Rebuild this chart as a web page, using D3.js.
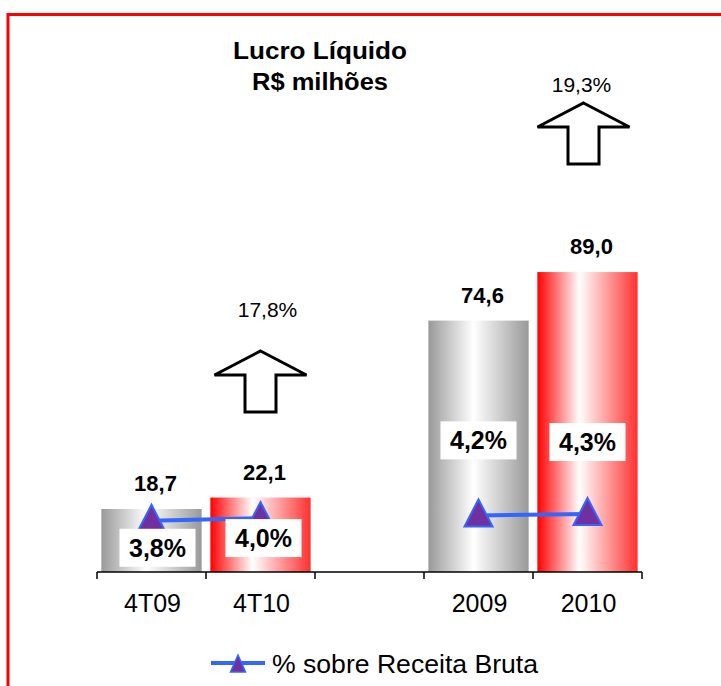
<!DOCTYPE html>
<html>
<head>
<meta charset="utf-8">
<script src="https://cdn.jsdelivr.net/npm/d3@7"></script>
<style>
  body { margin: 0; background: #fff; }
  svg { display: block; font-family: "Liberation Sans", Arial, sans-serif; }
</style>
</head>
<body>
<div class="chart"></div>
<script>
// data
const categories = ["4T09", "4T10", "", "2009", "2010"];
const lucro = [18.7, 22.1, null, 74.6, 89.0];
const lucroLabels = ["18,7", "22,1", null, "74,6", "89,0"];
const margem = [3.8, 4.0, null, 4.2, 4.3];
const margemLabels = ["3,8%", "4,0%", null, "4,2%", "4,3%"];
const barColors = ["gray", "red", null, "gray", "red"];
const growthTo = ["4T10", "2010"];
const growthLabels = ["17,8%", "19,3%"];

// layout only
const pctLabelOffset = [[6, 27], [3, 20], null, [0, -75], [0, -72]];
const arrowTop = [351, 103];
const arrowDx = [0, -4];
const growthLabelY = [317, 92];
const growthLabelDx = [7, -2];

const width = 721, height = 686;

const svg = d3.select(".chart")
    .append("svg")
    .attr("width", width)
    .attr("height", height);

const defs = svg.append("defs");
const grads = {
    gray: [["0%", "#999999"], ["45%", "#ffffff"], ["100%", "#999999"]],
    red: [["0%", "#ff0000"], ["42%", "#ffffff"], ["100%", "#ff3030"]]
};
Object.entries(grads).forEach(([name, stops]) => {
    const g = defs.append("linearGradient")
        .attr("id", "grad-" + name)
        .attr("x1", "0%").attr("x2", "100%").attr("y1", "0%").attr("y2", "0%");
    stops.forEach(s => g.append("stop").attr("offset", s[0]).attr("stop-color", s[1]));
});

// frame
svg.append("rect")
    .attr("x", 8).attr("y", 14.5)
    .attr("width", 900).attr("height", 900)
    .attr("fill", "none")
    .attr("stroke", "#ff0000")
    .attr("stroke-width", 3);

const baseY = 572;
const xScale = d3.scaleBand()
    .domain(categories)
    .range([97, 642])
    .paddingInner(0.08)
    .paddingOuter(0.04);

const yScale = d3.scaleLinear().domain([0, 100]).range([baseY, 235]);
const y2Scale = d3.scaleLinear().domain([0, 25]).range([baseY, 235]);

const rows = categories.map((c, i) => ({
    cat: c, v: lucro[i], vl: lucroLabels[i], m: margem[i], ml: margemLabels[i],
    color: barColors[i], off: pctLabelOffset[i]
}));
const filled = rows.filter(d => d.v != null);

// bars
svg.selectAll(".bar")
    .data(filled)
    .enter()
    .append("rect")
    .attr("class", "bar")
    .attr("x", d => xScale(d.cat))
    .attr("width", xScale.bandwidth())
    .attr("y", d => yScale(d.v))
    .attr("height", d => baseY - yScale(d.v))
    .attr("fill", d => `url(#grad-${d.color})`);

// bar values
svg.selectAll(".bar-label")
    .data(filled)
    .enter()
    .append("text")
    .attr("x", d => xScale(d.cat) + xScale.bandwidth() / 2 + 4)
    .attr("y", d => yScale(d.v) - 18)
    .attr("text-anchor", "middle")
    .attr("font-size", 22)
    .attr("font-weight", "bold")
    .text(d => d.vl);

// axis
const step = xScale.step();
const x0 = xScale.range()[0];
const xAxis = d3.axisBottom(xScale).tickSize(0).tickPadding(22);
const axisG = svg.append("g")
    .attr("transform", `translate(1, ${baseY})`)
    .call(xAxis);
axisG.select(".domain").remove();
axisG.selectAll("text")
    .attr("font-size", 25)
    .attr("font-family", "Liberation Sans, Arial, sans-serif")
    .attr("fill", "#000");

svg.append("line")
    .attr("x1", x0).attr("x2", xScale.range()[1])
    .attr("y1", baseY).attr("y2", baseY)
    .attr("stroke", "#000").attr("stroke-width", 1.5);
svg.selectAll(".tick-mark")
    .data(d3.range(categories.length + 1))
    .enter()
    .append("line")
    .attr("x1", i => x0 + i * step).attr("x2", i => x0 + i * step)
    .attr("y1", baseY).attr("y2", baseY + 7)
    .attr("stroke", "#000").attr("stroke-width", 1.5);

// percentage line
const cx = d => xScale(d.cat) + xScale.bandwidth() / 2;
const line = d3.line()
    .defined(d => d.m != null)
    .x(cx)
    .y(d => y2Scale(d.m));
svg.append("path")
    .datum(rows)
    .attr("d", line)
    .attr("fill", "none")
    .attr("stroke", "#3366ff")
    .attr("stroke-width", 4);

const tri = "M0,-16L14,11L-14,11Z";
svg.selectAll(".marker")
    .data(filled)
    .enter()
    .append("path")
    .attr("d", tri)
    .attr("transform", d => `translate(${cx(d)},${y2Scale(d.m)})`)
    .attr("fill", "#7030a0")
    .attr("stroke", "#3366ff")
    .attr("stroke-width", 2);

// percentage labels
const pl = svg.selectAll(".pct-label")
    .data(filled)
    .enter()
    .append("g")
    .attr("transform", d => `translate(${cx(d) + d.off[0]},${y2Scale(d.m) + d.off[1]})`);
pl.append("rect")
    .attr("x", -38).attr("y", -19)
    .attr("width", 76).attr("height", 38)
    .attr("fill", "#fff");
pl.append("text")
    .attr("y", 9)
    .attr("text-anchor", "middle")
    .attr("font-size", 25)
    .attr("font-weight", "bold")
    .text(d => d.ml);

// growth arrows
const arrow = "M0,0L46,24L15.5,24L15.5,61L-15.5,61L-15.5,24L-46,24Z";
growthTo.forEach((c, i) => {
    const ax = xScale(c) + xScale.bandwidth() / 2 + arrowDx[i];
    svg.append("path")
        .attr("d", arrow)
        .attr("transform", `translate(${ax},${arrowTop[i]})`)
        .attr("fill", "#fff")
        .attr("stroke", "#000")
        .attr("stroke-width", 3)
        .attr("stroke-linejoin", "miter");
    svg.append("text")
        .attr("x", ax + growthLabelDx[i])
        .attr("y", growthLabelY[i])
        .attr("text-anchor", "middle")
        .attr("font-size", 21)
        .text(growthLabels[i]);
});

// title
svg.append("text")
    .attr("x", 320).attr("y", 59)
    .attr("text-anchor", "middle")
    .attr("font-size", 24)
    .attr("font-weight", "bold")
    .attr("textLength", 174)
    .attr("lengthAdjust", "spacingAndGlyphs")
    .text("Lucro Líquido");
svg.append("text")
    .attr("x", 320).attr("y", 90)
    .attr("text-anchor", "middle")
    .attr("font-size", 24)
    .attr("font-weight", "bold")
    .attr("textLength", 136)
    .attr("lengthAdjust", "spacingAndGlyphs")
    .text("R$ milhões");

// legend
const legend = svg.append("g");
legend.append("line")
    .attr("x1", 211).attr("x2", 265)
    .attr("y1", 663).attr("y2", 663)
    .attr("stroke", "#3366ff").attr("stroke-width", 4);
legend.append("path")
    .attr("d", "M0,-9L7.5,8L-7.5,8Z")
    .attr("transform", "translate(238,664)")
    .attr("fill", "#7030a0")
    .attr("stroke", "#3366ff")
    .attr("stroke-width", 1.5);
legend.append("text")
    .attr("x", 272).attr("y", 673)
    .attr("font-size", 25)
    .attr("textLength", 266)
    .attr("lengthAdjust", "spacingAndGlyphs")
    .text("% sobre Receita Bruta");
</script>
</body>
</html>
